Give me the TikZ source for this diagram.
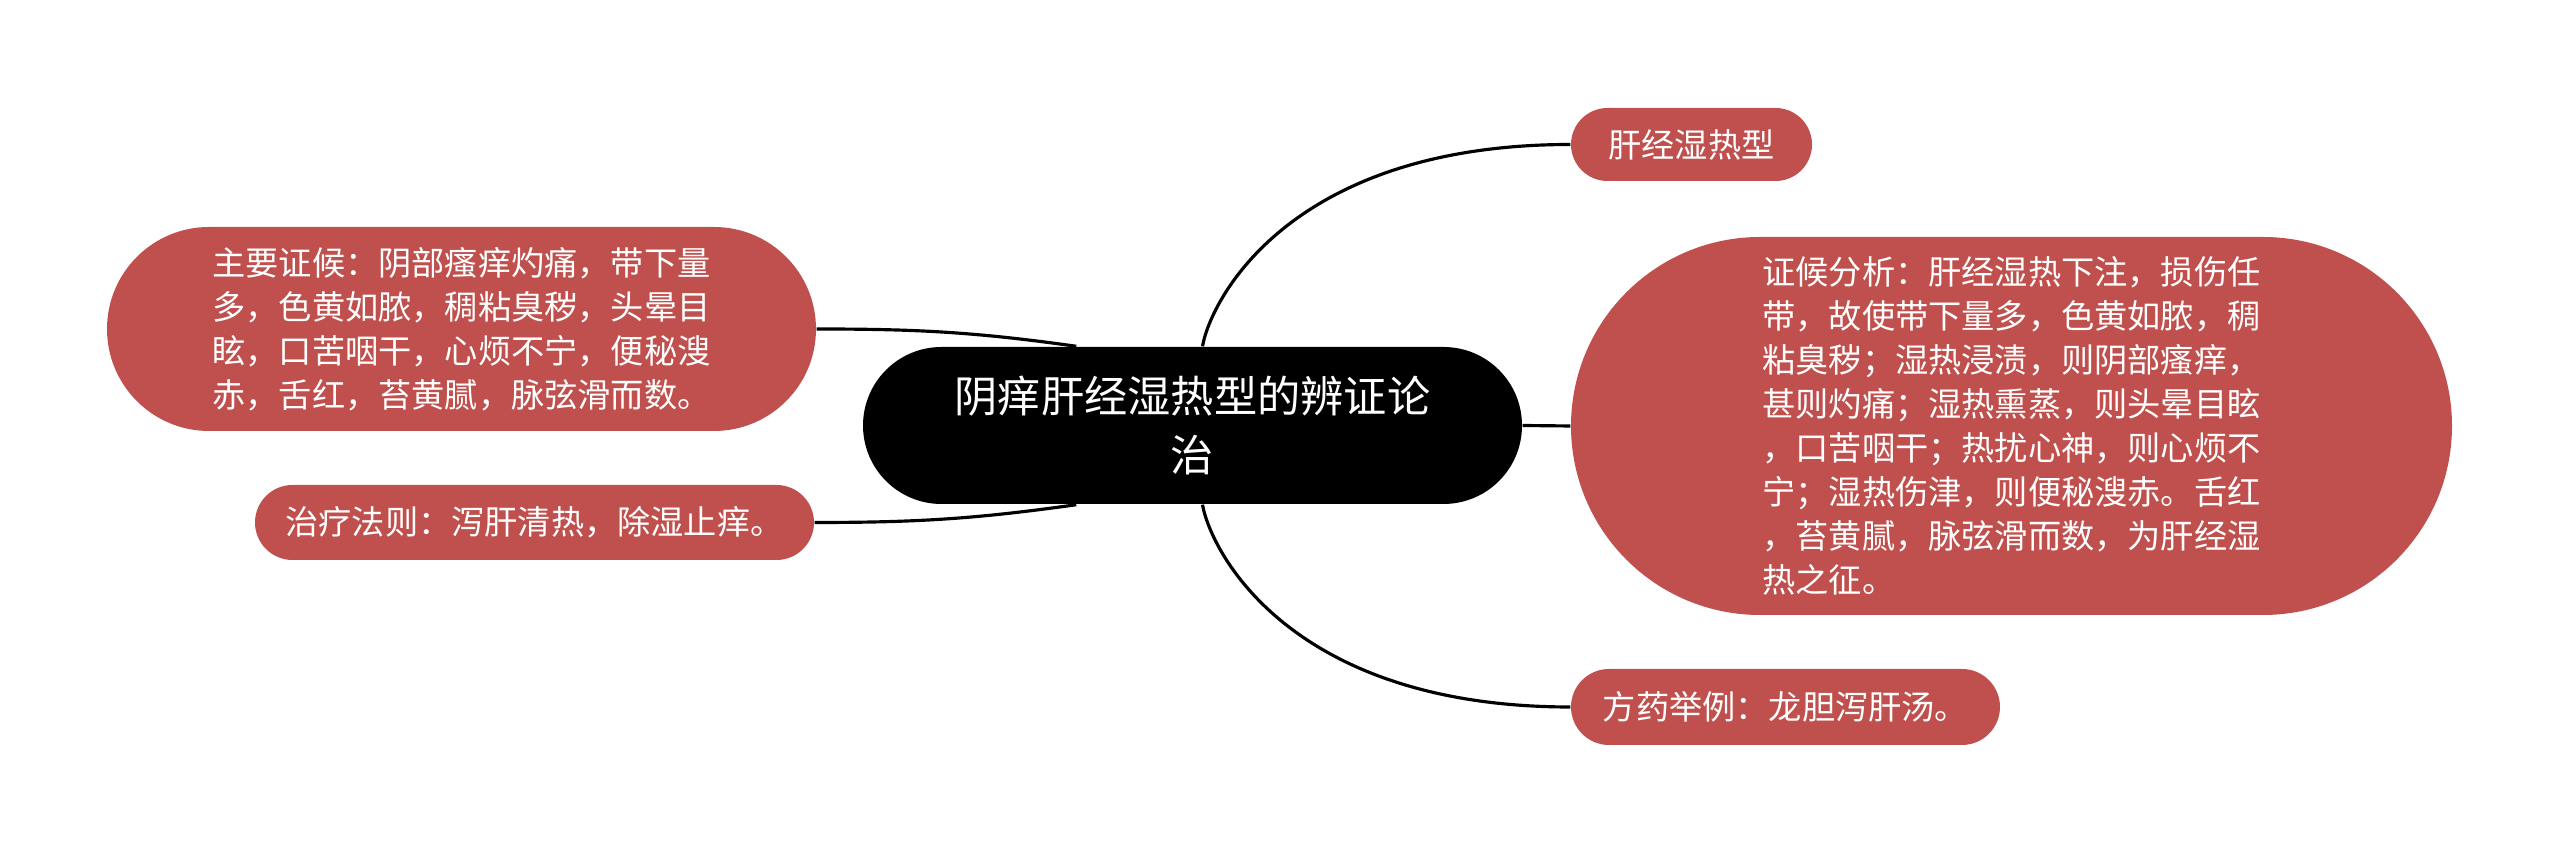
\documentclass[tikz,border=0pt]{standalone}
\usepackage{fontspec}
\setmainfont{Noto Sans CJK SC}
\definecolor{leafred}{HTML}{C0504D}

\begin{document}
\begin{tikzpicture}[
    leaf/.style={rectangle, fill=leafred, text=white, align=left, inner sep=0pt,
        font=\fontsize{9.45pt}{12.5pt}\selectfont},
    topicbox/.style={rectangle, fill=black, text=white, align=center, inner sep=0pt,
        font=\fontsize{12.3pt}{17pt}\selectfont},
    branch/.style={line width=0.9pt}
]
    \useasboundingbox (0,0) rectangle (25.6,8.52);

    % Central topic
    \node[topicbox, minimum width=6.59cm, minimum height=1.57cm, rounded corners=0.785cm] (topic) at (11.925,4.265) {阴痒肝经湿热型的辨证论\\治};

    % Nodes on the left
    \node[leaf, minimum width=7.09cm, minimum height=2.04cm, rounded corners=1.02cm] (sym) at (4.615,5.23) {主要证候：阴部瘙痒灼痛，带下量\\多，色黄如脓，稠粘臭秽，头晕目\\眩，口苦咽干，心烦不宁，便秘溲\\赤，舌红，苔黄腻，脉弦滑而数。};
    \node[leaf, minimum width=5.59cm, minimum height=0.75cm, rounded corners=0.375cm] (rule) at (5.345,3.295) {治疗法则：泻肝清热，除湿止痒。};

    % Nodes on the right
    \node[leaf, minimum width=2.41cm, minimum height=0.73cm, rounded corners=0.365cm] (kind) at (16.915,7.075) {肝经湿热型};
    \node[leaf, minimum width=8.81cm, minimum height=3.78cm, rounded corners=1.89cm] (anal) at (20.115,4.26) {证候分析：肝经湿热下注，损伤任\\带，故使带下量多，色黄如脓，稠\\粘臭秽；湿热浸渍，则阴部瘙痒，\\甚则灼痛；湿热熏蒸，则头晕目眩\\，口苦咽干；热扰心神，则心烦不\\宁；湿热伤津，则便秘溲赤。舌红\\，苔黄腻，脉弦滑而数，为肝经湿\\热之征。};
    \node[leaf, minimum width=4.29cm, minimum height=0.76cm, rounded corners=0.38cm] (rx) at (17.855,1.45) {方药举例：龙胆泻肝汤。};

    % Branches
    \draw[branch] (sym.east) to[out=0, in=172] ([xshift=2.14cm]topic.north west);
    \draw[branch] (rule.east) to[out=0, in=188] ([xshift=2.14cm]topic.south west);
    \draw[branch] ([xshift=1mm]topic.north) to[out=80, in=180, out distance=0.48cm, in distance=2.8cm] (kind.west);
    \draw[branch] (topic.east) -- (anal.west);
    \draw[branch] ([xshift=1mm]topic.south) to[out=-80, in=180, out distance=0.48cm, in distance=2.8cm] (rx.west);

\end{tikzpicture}
\end{document}
